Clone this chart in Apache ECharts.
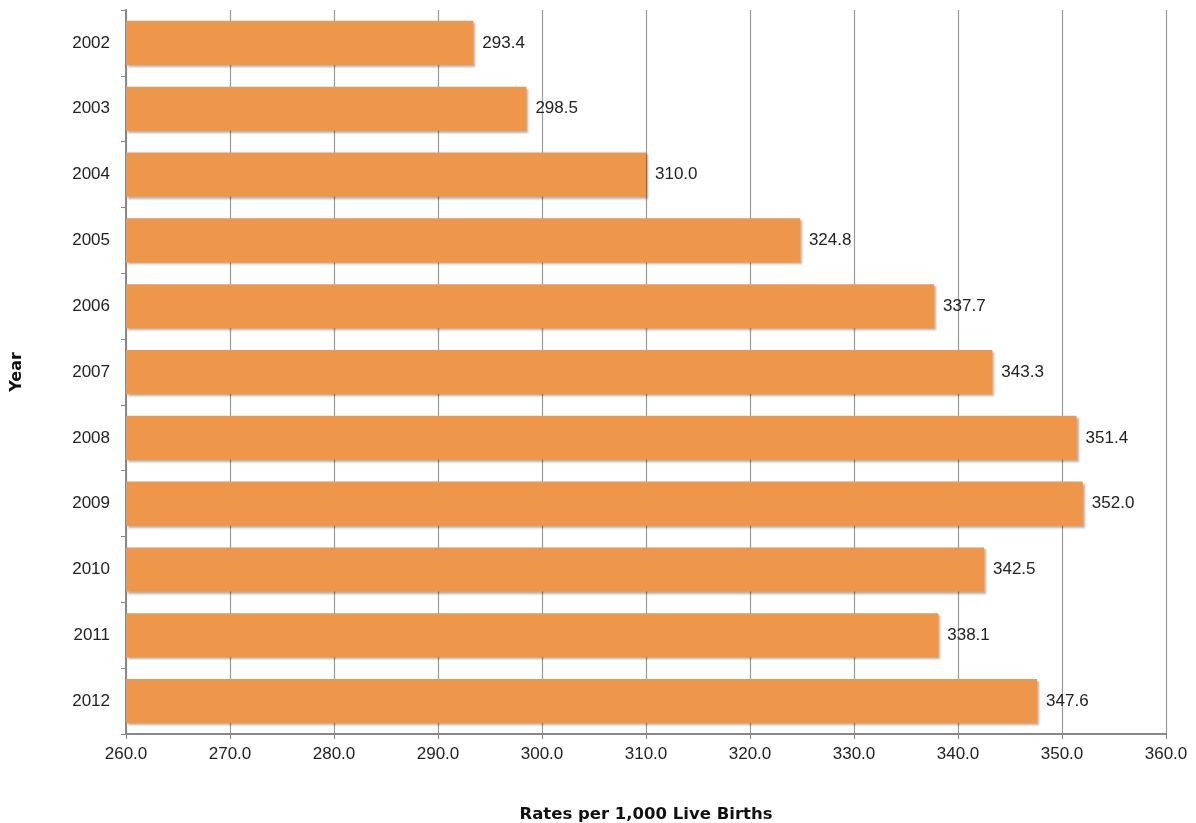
<!DOCTYPE html>
<html><head><meta charset="utf-8">
<script src="https://cdn.jsdelivr.net/npm/echarts@6/dist/echarts.min.js"></script>
<style>html,body{margin:0;padding:0;background:#fff}#c{width:1196px;height:823px}</style>
</head><body><div id="c"></div>
<script>
const years = ['2002','2003','2004','2005','2006','2007','2008','2009','2010','2011','2012'];
const rates = [293.4, 298.5, 310.0, 324.8, 337.7, 343.3, 351.4, 352.0, 342.5, 338.1, 347.6];
const xTitle = 'Rates per 1,000 Live Births';
const yTitle = 'Year';

const chart = echarts.init(document.getElementById('c'));
chart.setOption({
  animation: false,
  grid: { left: 126, right: 30, top: 10, bottom: 89, containLabel: false, outerBoundsMode: 'none' },
  xAxis: {
    type: 'value', min: 260, max: 360, interval: 10,
    name: xTitle, nameLocation: 'middle', nameGap: 72,
    nameTextStyle: { fontFamily: 'DejaVu Sans', fontWeight: 'bold', fontSize: 16.5, color: '#111' },
    axisLine: { show: true, lineStyle: { color: '#888', width: 2 } },
    axisTick: { show: true, length: 5, lineStyle: { color: '#888' } },
    axisLabel: { formatter: v => v.toFixed(1), fontFamily: 'Liberation Sans', fontSize: 17, color: '#222', margin: 12 },
    splitLine: { show: true, lineStyle: { color: '#999', width: 1.2 } }
  },
  yAxis: {
    type: 'category', data: years, inverse: true,
    name: yTitle, nameLocation: 'middle', nameGap: 101, nameRotate: 90,
    nameTextStyle: { fontFamily: 'DejaVu Sans', fontWeight: 'bold', fontSize: 16, color: '#111' },
    axisLine: { show: true, lineStyle: { color: '#888', width: 2 } },
    axisTick: { show: true, length: 5, lineStyle: { color: '#888' } },
    axisLabel: { fontFamily: 'Liberation Sans', fontSize: 17, color: '#222', margin: 16 },
    splitLine: { show: false }
  },
  series: [{
    type: 'bar', data: rates, barCategoryGap: '33%',
    itemStyle: { color: '#EE964A',
      shadowColor: 'rgba(0,0,0,0.3)', shadowBlur: 2, shadowOffsetX: 2, shadowOffsetY: 2 },
    label: { show: true, position: 'right', distance: 9, formatter: p => p.value.toFixed(1),
      fontFamily: 'Liberation Sans', fontSize: 17, color: '#222', textShadowBlur: 0 }
  }]
});
</script></body></html>
